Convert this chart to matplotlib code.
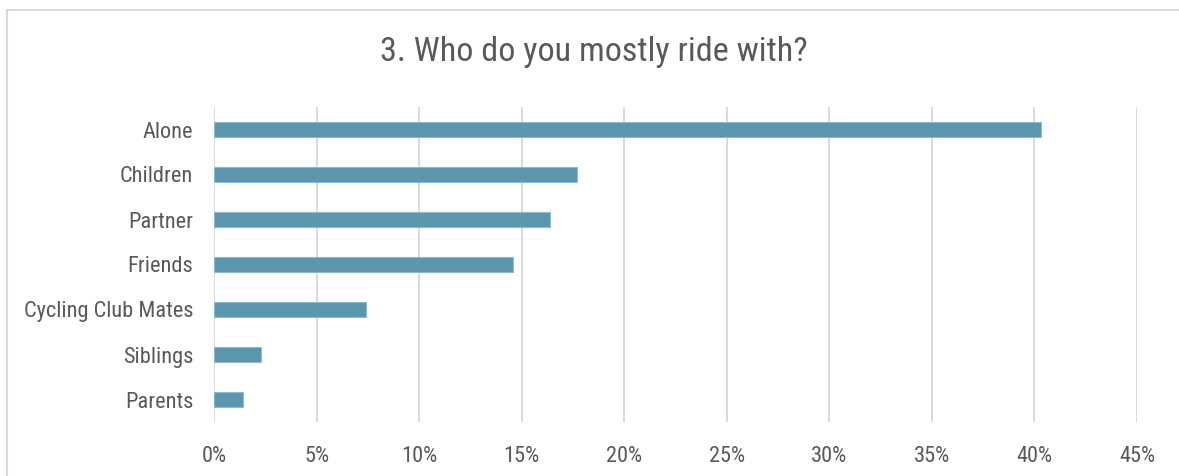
import matplotlib
matplotlib.use("Agg")
import matplotlib.pyplot as plt
from matplotlib.patches import Rectangle
from matplotlib.ticker import FuncFormatter, MultipleLocator

categories = ["Alone", "Children", "Partner", "Friends",
              "Cycling Club Mates", "Siblings", "Parents"]
shares = [40.3, 17.7, 16.4, 14.6, 7.4, 2.3, 1.4]  # percent of respondents
title = "3. Who do you mostly ride with?"

W, H, DPI = 1179, 476, 100
FONT = ["Liberation Sans Narrow", "Roboto Condensed", "Arial Narrow",
        "Liberation Sans", "DejaVu Sans"]
TEXT = "#595959"
GRID = "#D9D9D9"
BAR = "#5B96AF"

plt.rcParams["font.family"] = FONT

fig = plt.figure(figsize=(W / DPI, H / DPI), dpi=DPI)
fig.patch.set_facecolor("white")
renderer = fig.canvas.get_renderer()


def fit_size(text, width_px, base=20):
    """Font size at which `text` spans roughly `width_px` pixels."""
    t = fig.text(0, 0, text, fontsize=base)
    w = t.get_window_extent(renderer).width
    t.remove()
    return base * width_px / w


label_size = min(17, fit_size("Cycling Club Mates", 169))
title_size = min(27, fit_size(title, 427))

# chart frame
fig.add_artist(Rectangle((7 / W, -0.1), 1.2, 1 - 10 / H + 0.1,
                         transform=fig.transFigure, fill=False,
                         edgecolor=GRID, linewidth=1.5))

left, right = 214 / W, 1137 / W
top, bottom = 1 - 107 / H, 1 - 422 / H
ax = fig.add_axes([left, bottom, right - left, top - bottom])

ypos = list(range(len(categories)))
ax.barh(ypos, shares, height=0.333, color=BAR, edgecolor="#8FBACD",
        linewidth=0.8, zorder=3)
ax.set_yticks(ypos)
ax.set_yticklabels(categories)
ax.set_ylim(len(categories) - 0.5, -0.5)

ax.set_xlim(0, 45)
ax.xaxis.set_major_locator(MultipleLocator(5))
ax.xaxis.set_major_formatter(FuncFormatter(lambda v, _: f"{v:.0f}%"))
ax.grid(axis="x", color=GRID, linewidth=1.4, zorder=0)

for s in ax.spines.values():
    s.set_visible(False)
ax.tick_params(axis="both", length=0, labelsize=label_size, labelcolor=TEXT)
ax.tick_params(axis="x", pad=17)
ax.tick_params(axis="y", pad=15)

fig.text((380 + 807) / 2 / W, 1 - 52 / H, title, ha="center", va="center",
         fontsize=title_size, color=TEXT)

fig.savefig("out.png", dpi=DPI)
